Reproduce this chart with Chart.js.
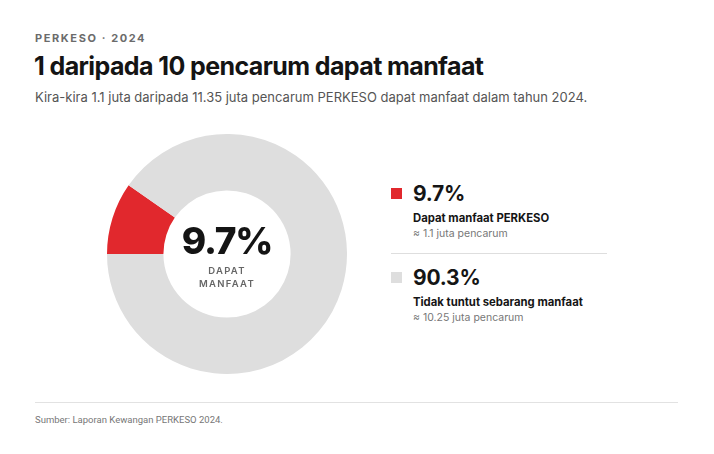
<!DOCTYPE html>
<html>
<head>
<meta charset="utf-8">
<script src="https://cdn.jsdelivr.net/npm/chart.js@4"></script>
<style>
  html, body { margin: 0; padding: 0; background: #fff; }
  body { width: 714px; height: 454px; position: relative; font-family: Inter, "Noto Sans", sans-serif; color: #151515; overflow: hidden; }
  .eyebrow { position: absolute; left: 35px; top: 31px; font-size: 11px; font-weight: 700; letter-spacing: 1.6px; color: #6b6b6b; }
  h1 { position: absolute; left: 34px; top: 51px; margin: 0; font-size: 25px; font-weight: 700; letter-spacing: -0.6px; color: #141414; }
  .sub { position: absolute; left: 35px; top: 89px; font-size: 13px; color: #555; }
  .donut { position: absolute; left: 107px; top: 134px; width: 240px; height: 240px; }
  .center { position: absolute; left: 107px; top: 134px; width: 240px; text-align: center; pointer-events: none; }
  .center .big { position: absolute; top: 84px; width: 100%; font-size: 37px; font-weight: 800; letter-spacing: -1.2px; color: #141414; }
  .center .lbl { position: absolute; top: 130px; width: 100%; font-size: 9.5px; font-weight: 600; letter-spacing: 1.3px; color: #666; line-height: 13px; }
  .item { position: absolute; left: 391px; }
  .sw { position: absolute; left: 0; width: 11px; height: 11px; }
  .pct { position: absolute; left: 22px; font-size: 21px; font-weight: 700; letter-spacing: -0.2px; white-space: nowrap; }
  .name { position: absolute; left: 22px; font-size: 11.3px; font-weight: 700; white-space: nowrap; }
  .note { position: absolute; left: 22px; font-size: 10.5px; color: #777; white-space: nowrap; }
  .div { position: absolute; left: 391px; top: 253px; width: 216px; height: 1px; background: #dedede; }
  .foot-line { position: absolute; left: 35px; top: 402px; width: 643px; height: 1px; background: #e2e2e2; }
  .foot { position: absolute; left: 35px; top: 414px; font-size: 9.5px; color: #777; font-family: Roboto, "Noto Sans", sans-serif; }
</style>
</head>
<body>
<div class="eyebrow">PERKESO · 2024</div>
<h1>1 daripada 10 pencarum dapat manfaat</h1>
<div class="sub">Kira-kira 1.1 juta daripada 11.35 juta pencarum PERKESO dapat manfaat dalam tahun 2024.</div>

<div class="donut"><canvas id="donutChart"></canvas></div>
<div class="center">
  <div class="big" id="centerPct"></div>
  <div class="lbl">DAPAT<br>MANFAAT</div>
</div>

<div id="legend"></div>
<div class="div"></div>

<div class="foot-line"></div>
<div class="foot">Sumber: Laporan Kewangan PERKESO 2024.</div>

<script>
const categories = ["Dapat manfaat PERKESO", "Tidak tuntut sebarang manfaat"];
const shares = [9.7, 90.3];
const peopleMillions = ["1.1", "10.25"];
const colors = ["#e1282d", "#dedede"];

/* ================= CENTER + LEGEND ================= */

document.getElementById("centerPct").innerText = shares[0] + "%";

const legendTops = [184, 268];
document.getElementById("legend").innerHTML = categories.map((cat, i) => `
  <div class="item" style="top:${legendTops[i]}px">
    <div class="sw" style="top:4px;background:${colors[i]}"></div>
    <div class="pct" style="top:-3px">${shares[i]}%</div>
    <div class="name" style="top:27px">${cat}</div>
    <div class="note" style="top:43px">≈ ${peopleMillions[i]} juta pencarum</div>
  </div>
`).join("");

/* ================= DOUGHNUT ================= */

new Chart(document.getElementById("donutChart"), {
  type: "doughnut",
  data: {
    labels: categories,
    datasets: [{
      data: shares,
      backgroundColor: colors,
      borderWidth: 0,
      hoverOffset: 0
    }]
  },
  options: {
    responsive: true,
    maintainAspectRatio: false,
    animation: false,
    rotation: 270,
    cutout: "53%",
    layout: { padding: 0 },
    plugins: {
      legend: { display: false },
      tooltip: { enabled: false }
    }
  }
});
</script>
</body>
</html>
